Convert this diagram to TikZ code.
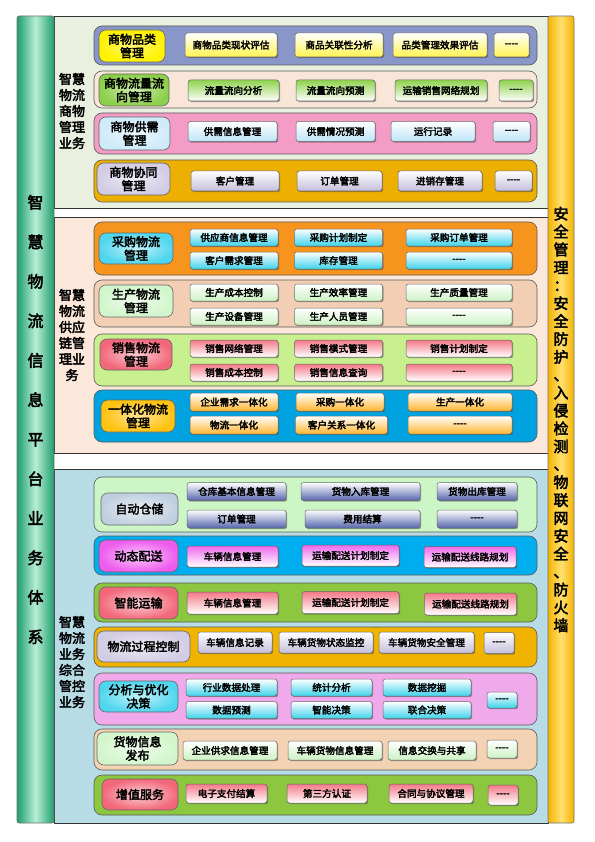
\documentclass[tikz,border=0pt]{standalone}
\usepackage{fontspec}
\newfontfamily\cjk{Noto Sans CJK SC}[FakeBold=3]
\usetikzlibrary{shadows}
\definecolor{titleA}{HTML}{1E9E6E}
\definecolor{titleB}{HTML}{B8EED6}
\definecolor{safeA}{HTML}{F5B400}
\definecolor{safeB}{HTML}{FFE070}
\definecolor{secA}{HTML}{EAF0E0}
\definecolor{secB}{HTML}{FBE8DA}
\definecolor{secC}{HTML}{B8DCE6}
\definecolor{bandA1}{HTML}{8896C8}
\definecolor{bandA2}{HTML}{F9E6D9}
\definecolor{bandA3}{HTML}{F39CC6}
\definecolor{bandA4}{HTML}{EEB000}
\definecolor{bandB1}{HTML}{F7941E}
\definecolor{bandB2}{HTML}{F2CFB4}
\definecolor{bandB3}{HTML}{C8F08E}
\definecolor{bandB4}{HTML}{00A2DF}
\definecolor{bandC1}{HTML}{CCF6C6}
\definecolor{bandC2}{HTML}{00AEEF}
\definecolor{bandC3}{HTML}{8DC63F}
\definecolor{bandC4}{HTML}{EFB300}
\definecolor{bandC5}{HTML}{F0A9EA}
\definecolor{bandC6}{HTML}{F4D2B4}
\definecolor{bandC7}{HTML}{8DC63F}
\definecolor{hdYel}{HTML}{FFF200}
\definecolor{hdGrn}{HTML}{8CCF4A}
\definecolor{hdSky}{HTML}{CFEAF9}
\definecolor{hdLav}{HTML}{D2CCE4}
\definecolor{hdCyn}{HTML}{4FD6EE}
\definecolor{hdMnt}{HTML}{D2F6CC}
\definecolor{hdRed}{HTML}{F2687A}
\definecolor{hdOra}{HTML}{FFC20E}
\definecolor{hdSte}{HTML}{C0CFE0}
\definecolor{hdMag}{HTML}{EE5CEE}
\definecolor{clYel}{HTML}{FFF450}
\definecolor{clGrn}{HTML}{8FD24E}
\definecolor{clSky}{HTML}{BDE5F8}
\definecolor{clLav}{HTML}{C4BEDA}
\definecolor{clCyn}{HTML}{3ED2EA}
\definecolor{clMnt}{HTML}{CCF3C4}
\definecolor{clPnk}{HTML}{F47A88}
\definecolor{clOra}{HTML}{FFB52E}
\definecolor{clNav}{HTML}{5666AE}
\definecolor{clMag}{HTML}{EE6AEE}
\newcommand\fourdash{-\kern0pt-\kern0pt-\kern0pt-}
\tikzset{
    sect/.style={draw=black!80, line width=0.6pt},
    pillar/.style={draw=black!55, line width=0.6pt, rounded corners=2pt, align=center, inner sep=0pt},
    lab/.style={align=center, inner sep=0pt, font=\cjk\fontsize{13}{16}\selectfont},
    band/.style={draw=black!65, line width=0.6pt, rounded corners=8pt, minimum width=443pt},
    head/.style={draw=black!60, line width=0.6pt, rounded corners=7pt, align=center, inner sep=0pt,
        font=\cjk\fontsize{12}{13.5}\selectfont},
    cell/.style={draw=black!60, line width=0.5pt, rounded corners=2.5pt, inner sep=0pt,
        font=\cjk\fontsize{9.6}{10}\selectfont,
        drop shadow={shadow xshift=1.2pt, shadow yshift=-1.2pt, opacity=0.5, fill=black!70}},
    cYel/.style={cell, top color=white, bottom color=clYel},
    cGrn/.style={cell, top color=clGrn, bottom color=white},
    cSky/.style={cell, top color=white, bottom color=clSky},
    cLav/.style={cell, top color=white, bottom color=clLav},
    cCyn/.style={cell, top color=white, bottom color=clCyn},
    cMnt/.style={cell, top color=white, bottom color=clMnt},
    cPnk/.style={cell, top color=clPnk, bottom color=white},
    cOra/.style={cell, top color=white, bottom color=clOra},
    cNav/.style={cell, top color=white, bottom color=clNav},
    cMag/.style={cell, top color=clMag, bottom color=white}
}

\begin{document}
\begin{tikzpicture}[x=1pt, y=-1pt]
    \useasboundingbox (0,0) rectangle (594,842);

    \draw[sect, fill=secA] (54,16) rectangle (548,208);
    \draw[sect, fill=secB] (54,217) rectangle (548,453);
    \draw[sect, fill=secC] (54,469) rectangle (548,823);

    \node[pillar, minimum width=37pt, minimum height=807pt, left color=titleA, right color=titleA, middle color=titleB,
        font=\cjk\fontsize{16}{39.5}\selectfont] (title) at (35.5,419.5)
        {智\\慧\\物\\流\\信\\息\\平\\台\\业\\务\\体\\系};
    \node[pillar, minimum width=26pt, minimum height=807pt, left color=safeA, right color=safeA, middle color=safeB,
        font=\cjk\fontsize{15}{17.9}\selectfont] (safety) at (561,419.5)
        {安\\全\\管\\理\\：\\安\\全\\防\\护\\、\\入\\侵\\检\\测\\、\\物\\联\\网\\安\\全\\、\\防\\火\\墙};

    \node[lab] (labA) at (72,111) {智慧\\物流\\商物\\管理\\业务};
    \node[lab] (labB) at (72,335) {智慧\\物流\\供应\\链管\\理业\\务};
    \node[lab] (labC) at (72,662) {智慧\\物流\\业务\\综合\\管控\\业务};

    \node[band, minimum height=39pt, fill=bandA1] (bA1) at (315.5,45.5) {};
    \node[head, minimum width=66pt, minimum height=32pt, inner color=hdYel!55!white, outer color=hdYel] (hA1) at (132,46) {商物品类\\管理};
    \node[cYel, minimum width=92pt, minimum height=24pt] (cA1a) at (231,45) {商物品类现状评估};
    \node[cYel, minimum width=88pt, minimum height=24pt] (cA1b) at (339,45) {商品关联性分析};
    \node[cYel, minimum width=94pt, minimum height=24pt] (cA1c) at (440,45) {品类管理效果评估};
    \node[cYel, minimum width=35pt, minimum height=24pt] (cA1d) at (511.5,45) {\fourdash};

    \node[band, minimum height=37pt, fill=bandA2] (bA2) at (315.5,89.5) {};
    \node[head, minimum width=70pt, minimum height=32pt, inner color=hdGrn!45!white, outer color=hdGrn] (hA2) at (134,90) {商物流量流\\向管理};
    \node[cGrn, minimum width=91pt, minimum height=21pt] (cA2a) at (233.5,90.5) {流量流向分析};
    \node[cGrn, minimum width=79pt, minimum height=21pt] (cA2b) at (335.5,90.5) {流量流向预测};
    \node[cGrn, minimum width=92pt, minimum height=21pt] (cA2c) at (441,90.5) {运输销售网络规划};
    \node[cGrn, minimum width=34pt, minimum height=21pt] (cA2d) at (516,90.5) {\fourdash};

    \node[band, minimum height=41pt, fill=bandA3] (bA3) at (315.5,133.5) {};
    \node[head, minimum width=71pt, minimum height=33pt, inner color=hdSky!40!white, outer color=hdSky] (hA3) at (134.5,133.5) {商物供需\\管理};
    \node[cSky, minimum width=89pt, minimum height=20pt] (cA3a) at (232.5,131.5) {供需信息管理};
    \node[cSky, minimum width=79pt, minimum height=20pt] (cA3b) at (335.5,131.5) {供需情况预测};
    \node[cSky, minimum width=84pt, minimum height=20pt] (cA3c) at (433,131.5) {运行记录};
    \node[cSky, minimum width=37pt, minimum height=20pt] (cA3d) at (511.5,131.5) {\fourdash};

    \node[band, minimum height=42pt, fill=bandA4] (bA4) at (315.5,181) {};
    \node[head, minimum width=73pt, minimum height=32pt, inner color=hdLav!40!white, outer color=hdLav] (hA4) at (133.5,179) {商物协同\\管理};
    \node[cLav, minimum width=88pt, minimum height=20pt] (cA4a) at (235,181) {客户管理};
    \node[cLav, minimum width=85pt, minimum height=20pt] (cA4b) at (339.5,181) {订单管理};
    \node[cLav, minimum width=84pt, minimum height=20pt] (cA4c) at (440,181) {进销存管理};
    \node[cLav, minimum width=37pt, minimum height=20pt] (cA4d) at (513.5,181) {\fourdash};

    \node[band, minimum height=53pt, fill=bandB1] (bB1) at (315.5,248.5) {};
    \node[head, minimum width=74pt, minimum height=31pt, inner color=hdCyn!35!white, outer color=hdCyn] (hB1) at (136,248.5) {采购物流\\管理};
    \node[cCyn, minimum width=88pt, minimum height=17pt] (cB1a) at (234,237.5) {供应商信息管理};
    \node[cCyn, minimum width=88pt, minimum height=17pt] (cB1b) at (338.5,237.5) {采购计划制定};
    \node[cCyn, minimum width=106pt, minimum height=17pt] (cB1c) at (459,237.5) {采购订单管理};
    \node[cCyn, minimum width=88pt, minimum height=17pt] (cB1d) at (234,260.5) {客户需求管理};
    \node[cCyn, minimum width=88pt, minimum height=17pt] (cB1e) at (338.5,260.5) {库存管理};
    \node[cCyn, minimum width=106pt, minimum height=17pt] (cB1f) at (459,260.5) {\fourdash};

    \node[band, minimum height=47pt, fill=bandB2] (bB2) at (315.5,303.5) {};
    \node[head, minimum width=74pt, minimum height=32pt, inner color=hdMnt!40!white, outer color=hdMnt] (hB2) at (136,301) {生产物流\\管理};
    \node[cMnt, minimum width=88pt, minimum height=17pt] (cB2a) at (234,292.5) {生产成本控制};
    \node[cMnt, minimum width=88pt, minimum height=17pt] (cB2b) at (338.5,292.5) {生产效率管理};
    \node[cMnt, minimum width=106pt, minimum height=17pt] (cB2c) at (459,292.5) {生产质量管理};
    \node[cMnt, minimum width=88pt, minimum height=17pt] (cB2d) at (234,316.5) {生产设备管理};
    \node[cMnt, minimum width=88pt, minimum height=17pt] (cB2e) at (338.5,316.5) {生产人员管理};
    \node[cMnt, minimum width=106pt, minimum height=17pt] (cB2f) at (459,316.5) {\fourdash};

    \node[band, minimum height=52pt, fill=bandB3] (bB3) at (315.5,360) {};
    \node[head, minimum width=72pt, minimum height=31pt, inner color=hdRed!35!white, outer color=hdRed] (hB3) at (136,354.5) {销售物流\\管理};
    \node[cPnk, minimum width=88pt, minimum height=17pt] (cB3a) at (234,348.5) {销售网络管理};
    \node[cPnk, minimum width=88pt, minimum height=17pt] (cB3b) at (338.5,348.5) {销售模式管理};
    \node[cPnk, minimum width=106pt, minimum height=17pt] (cB3c) at (459,348.5) {销售计划制定};
    \node[cPnk, minimum width=88pt, minimum height=17pt] (cB3d) at (234,372.5) {销售成本控制};
    \node[cPnk, minimum width=88pt, minimum height=17pt] (cB3e) at (338.5,372.5) {销售信息查询};
    \node[cPnk, minimum width=106pt, minimum height=17pt] (cB3f) at (459,372.5) {\fourdash};

    \node[band, minimum height=52pt, fill=bandB4] (bB4) at (315.5,416) {};
    \node[head, minimum width=74pt, minimum height=32pt, inner color=hdOra!45!white, outer color=hdOra] (hB4) at (138,416) {一体化物流\\管理};
    \node[cOra, minimum width=88pt, minimum height=18pt] (cB4a) at (234,402) {企业需求一体化};
    \node[cOra, minimum width=88pt, minimum height=18pt] (cB4b) at (340,402) {采购一体化};
    \node[cOra, minimum width=104pt, minimum height=18pt] (cB4c) at (460,402) {生产一体化};
    \node[cOra, minimum width=88pt, minimum height=18pt] (cB4d) at (234,425) {物流一体化};
    \node[cOra, minimum width=92pt, minimum height=18pt] (cB4e) at (341.5,425) {客户关系一体化};
    \node[cOra, minimum width=104pt, minimum height=18pt] (cB4f) at (460,425) {\fourdash};

    \node[band, minimum height=55pt, fill=bandC1] (bC1) at (315.5,504.5) {};
    \node[head, minimum width=77pt, minimum height=32pt, inner color=hdSte!35!white, outer color=hdSte] (hC1) at (139.5,509) {自动仓储};
    \node[cNav, minimum width=99pt, minimum height=18pt] (cC1a) at (236.5,491.5) {仓库基本信息管理};
    \node[cNav, minimum width=119pt, minimum height=18pt] (cC1b) at (360.5,491.5) {货物入库管理};
    \node[cNav, minimum width=80pt, minimum height=18pt] (cC1c) at (477,491.5) {货物出库管理};
    \node[cNav, minimum width=99pt, minimum height=18pt] (cC1d) at (236.5,519) {订单管理};
    \node[cNav, minimum width=115pt, minimum height=18pt] (cC1e) at (362.5,519) {费用结算};
    \node[cNav, minimum width=80pt, minimum height=18pt] (cC1f) at (477,519) {\fourdash};

    \node[band, minimum height=39pt, fill=bandC2] (bC2) at (315.5,555.5) {};
    \node[head, minimum width=79pt, minimum height=32pt, inner color=hdMag!30!white, outer color=hdMag] (hC2) at (138.5,556) {动态配送};
    \node[cMag, minimum width=91pt, minimum height=21pt] (cC2a) at (232.5,556.5) {车辆信息管理};
    \node[cMag, minimum width=97pt, minimum height=21pt] (cC2b) at (350.5,555.5) {运输配送计划制定};
    \node[cMag, minimum width=92pt, minimum height=21pt] (cC2c) at (470,557) {运输配送线路规划};

    \node[band, minimum height=39pt, fill=bandC3] (bC3) at (315.5,602.5) {};
    \node[head, minimum width=79pt, minimum height=32pt, inner color=hdRed!30!white, outer color=hdRed] (hC3) at (138.5,603) {智能运输};
    \node[cPnk, minimum width=91pt, minimum height=22pt] (cC3a) at (232.5,603) {车辆信息管理};
    \node[cPnk, minimum width=97pt, minimum height=22pt] (cC3b) at (350.5,602.5) {运输配送计划制定};
    \node[cPnk, minimum width=92pt, minimum height=22pt] (cC3c) at (470.5,604) {运输配送线路规划};

    \node[band, minimum height=40pt, fill=bandC4] (bC4) at (315.5,647) {};
    \node[head, minimum width=93pt, minimum height=31pt, inner color=hdLav!40!white, outer color=hdLav] (hC4) at (143.5,646.5) {物流过程控制};
    \node[cLav, minimum width=74pt, minimum height=21pt] (cC4a) at (235,642.5) {车辆信息记录};
    \node[cLav, minimum width=94pt, minimum height=21pt] (cC4b) at (326,642.5) {车辆货物状态监控};
    \node[cLav, minimum width=95pt, minimum height=21pt] (cC4c) at (426.5,642.5) {车辆货物安全管理};
    \node[cLav, minimum width=30pt, minimum height=21pt] (cC4d) at (499,643) {\fourdash};

    \node[band, minimum height=52pt, fill=bandC5] (bC5) at (315.5,699) {};
    \node[head, minimum width=79pt, minimum height=31pt, inner color=hdCyn!35!white, outer color=hdCyn] (hC5) at (138.5,696.5) {分析与优化\\决策};
    \node[cCyn, minimum width=91pt, minimum height=17pt] (cC5a) at (231.5,687.5) {行业数据处理};
    \node[cCyn, minimum width=81pt, minimum height=17pt] (cC5b) at (331.5,687.5) {统计分析};
    \node[cCyn, minimum width=88pt, minimum height=17pt] (cC5c) at (427,687.5) {数据挖掘};
    \node[cCyn, minimum width=91pt, minimum height=17pt] (cC5d) at (231.5,710) {数据预测};
    \node[cCyn, minimum width=81pt, minimum height=17pt] (cC5e) at (331.5,710) {智能决策};
    \node[cCyn, minimum width=88pt, minimum height=17pt] (cC5f) at (427,710) {联合决策};
    \node[cCyn, minimum width=30pt, minimum height=16pt] (cC5g) at (502,700) {\fourdash};

    \node[band, minimum height=41pt, fill=bandC6] (bC6) at (315.5,749.5) {};
    \node[head, minimum width=81pt, minimum height=33pt, inner color=hdMnt!40!white, outer color=hdMnt] (hC6) at (137.5,748.5) {货物信息\\发布};
    \node[cMnt, minimum width=94pt, minimum height=19pt] (cC6a) at (230,750.5) {企业供求信息管理};
    \node[cMnt, minimum width=94pt, minimum height=19pt] (cC6b) at (335,750.5) {车辆货物信息管理};
    \node[cMnt, minimum width=88pt, minimum height=19pt] (cC6c) at (432,750.5) {信息交换与共享};
    \node[cMnt, minimum width=30pt, minimum height=18pt] (cC6d) at (502,749) {\fourdash};

    \node[band, minimum height=40pt, fill=bandC7] (bC7) at (315.5,795) {};
    \node[head, minimum width=76pt, minimum height=31pt, inner color=hdRed!30!white, outer color=hdRed] (hC7) at (140,794.5) {增值服务};
    \node[cPnk, minimum width=81pt, minimum height=19pt] (cC7a) at (226.5,793.5) {电子支付结算};
    \node[cPnk, minimum width=80pt, minimum height=19pt] (cC7b) at (327,793.5) {第三方认证};
    \node[cPnk, minimum width=84pt, minimum height=19pt] (cC7c) at (431,793.5) {合同与协议管理};
    \node[cPnk, minimum width=30pt, minimum height=20pt] (cC7d) at (503,795) {\fourdash};
\end{tikzpicture}
\end{document}
